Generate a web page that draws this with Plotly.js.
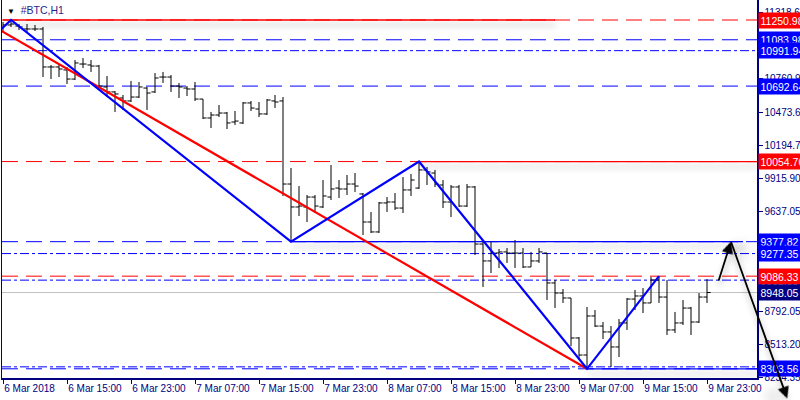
<!DOCTYPE html>
<html><head><meta charset="utf-8">
<script src="https://cdn.plot.ly/plotly-3.0.1.min.js"></script>
<style>html,body{margin:0;padding:0;background:#fff;} #chart{width:800px;height:400px;}</style>
</head><body><div id="chart"></div>
<script>
// ---- data: hourly BTC bars, 6 Mar 2018 07:00 .. 9 Mar 23:00 ----
const barOpen = [11183,11209,11200,11175,11175,11175,10854,10854,10829,10752,
 10879,10871,10862,10685,10643,10592,10567,10600,10676,10643,
 10769,10769,10693,10676,10668,10583,10423,10448,10465,10389,
 10381,10550,10499,10457,10567,10567,9865,9671,9671,9755,
 9671,9755,9831,9823,9865,9781,9544,9460,9705,9713,
 9662,9815,9831,9984,9958,9857,9713,9840,9679,9840,
 9358,9215,9282,9291,9282,9282,9164,9215,9282,9029,
 8944,8902,8564,8420,8750,8665,8615,8488,8691,8893,
 8919,8860,9054,8910,8632,8691,8817,8699,8910];
const barHigh = [11234,11250.98,11217,11217,11209,11192,10871,10879,10854,10913,
 10930,10913,10871,10778,10651,10617,10736,10727,10685,10803,
 10812,10786,10719,10693,10727,10583,10474,10533,10474,10482,
 10558,10567,10558,10583,10617,10600,10000,9848,9772,9772,
 9899,10026,9899,9941,9958,9789,9629,9713,9755,9789,
 9924,9950,10054.70,10009,9984,9899,9857,9857,9865,9848,
 9392,9375,9316,9324,9392,9324,9291,9324,9282,9054,
 8978,8902,8572,8826,8800,8699,8665,8724,8902,8970,
 8986,9080,9086.33,9054,8784,8885,8826,8944,9062];
const barLow = [11150,11192,11166,11150,11158,10769,10752,10769,10710,10744,
 10845,10812,10685,10600,10474,10491,10558,10592,10491,10634,
 10719,10643,10592,10609,10567,10414,10338,10431,10330,10364,
 10372,10482,10431,10448,10507,9764,9377.82,9595,9544,9620,
 9662,9730,9747,9772,9798,9434,9451,9451,9629,9646,
 9620,9764,9823,9857,9840,9662,9586,9671,9671,9265,
 8995,9113,9155,9198,9155,9155,9164,9198,8885,8817,
 8860,8496,8378,8303.56,8657,8555,8319,8403,8632,8800,
 8775,8860,8860,8589,8606,8674,8589,8691,8860];
const barClose = [11209,11217,11192,11175,11175,10854,10854,10837,10752,10888,
 10879,10862,10693,10643,10626,10567,10600,10685,10634,10761,
 10769,10693,10685,10668,10583,10423,10448,10465,10381,10397,
 10550,10507,10457,10575,10558,9865,9671,9679,9755,9679,
 9764,9823,9823,9865,9848,9544,9460,9705,9713,9662,
 9815,9899,9984,9967,9865,9713,9840,9679,9840,9358,
 9215,9282,9291,9282,9282,9164,9215,9291,9029,8944,
 8902,8564,8420,8750,8665,8615,8488,8691,8893,8919,
 8860,9054,8910,8632,8691,8817,8699,8910,8948.05];

const timeTickBars = [0,8,16,24,32,40,48,56,64,72,80,88];
const timeTickLabels = ["6 Mar 2018","6 Mar 15:00","6 Mar 23:00","7 Mar 07:00","7 Mar 15:00","7 Mar 23:00",
  "8 Mar 07:00","8 Mar 15:00","8 Mar 23:00","9 Mar 07:00","9 Mar 15:00","9 Mar 23:00"];
const priceTicks = [11318.60,10760.90,10473.60,10194.75,9915.90,9637.05,8792.05,8513.20,8234.35];

const levelPrices = [11250.98,11083.98,10991.94,10692.64,10054.70,9377.82,9277.35,9052.83,9086.33,8948.05,8320.10,8303.56];
const levelLabelShown = [true,true,true,true,true,true,true,true,true,true,false,true];
const solidFromBars = [0,52,36,73];
const solidToBars = [69,94.25,92.5,94.25];
const solidPrices = [11250.98,10054.70,9377.82,8303.56];

const zigzagBars = [-0.2,1,36,52,73,82];
const zigzagPrices = [11175,11250.98,9377.82,10054.70,8303.56,9086.33];
const trendBars = [-0.4,73];
const trendPrices = [11166,8303.56];

const arrowUpFrom = [89.4,9037];
const arrowUpTo = [91,9377.82];
const arrowDownFrom = [91,9377.82];
const arrowDownTo = [98.1,8040];

// ---- styles ----
const BLUE='#0000ff', RED='#ff0000', NAVY='#000080', GRAY='#c0c0c0';
const DASH='16px,8px', DASHDOT='9px,3px,3px,3px';
const levelStyle = [
  {c:RED,d:DASH,bg:RED},{c:BLUE,d:DASH,bg:BLUE},{c:BLUE,d:DASHDOT,bg:BLUE},{c:BLUE,d:DASH,bg:BLUE},
  {c:RED,d:DASH,bg:RED},{c:BLUE,d:DASH,bg:BLUE},{c:BLUE,d:DASHDOT,bg:BLUE},{c:BLUE,d:DASHDOT,bg:BLUE},
  {c:RED,d:DASH,bg:RED},{c:GRAY,d:'solid',bg:NAVY},{c:BLUE,d:DASHDOT,bg:BLUE},{c:BLUE,d:DASH,bg:BLUE}];
const solidColors=[RED,RED,BLUE,BLUE];
const FONT='Liberation Sans, Arial, sans-serif';
const xRange=[-0.125,94.25], yRange=[8225.9,11420];

const xIdx = barOpen.map((_,i)=>i);

const traces = [
  {type:'ohlc', x:xIdx, open:barOpen, high:barHigh, low:barLow, close:barClose,
   increasing:{line:{color:'#000',width:1}}, decreasing:{line:{color:'#000',width:1}},
   tickwidth:0.45, hoverinfo:'skip', showlegend:false},
  {type:'scatter', mode:'lines', x:trendBars, y:trendPrices, line:{color:RED,width:2.2}, hoverinfo:'skip', showlegend:false},
  {type:'scatter', mode:'lines', x:zigzagBars, y:zigzagPrices, line:{color:BLUE,width:2.2}, hoverinfo:'skip', showlegend:false}
];

const shapes = [];
levelPrices.forEach((p,i)=>{
  shapes.push({type:'line', layer:'below', xref:'x', yref:'y', x0:xRange[0], x1:xRange[1], y0:p, y1:p,
    line:{color:levelStyle[i].c, width:1, dash:levelStyle[i].d}});
});
const shadowStart = shapes.length;
solidPrices.forEach((p,i)=>{
  shapes.push({type:'line', layer:'below', xref:'x', yref:'y', x0:solidFromBars[i], x1:solidToBars[i], y0:p, y1:p,
    line:{color:solidColors[i], width:1.3}});
});

const annotations = [];
levelPrices.forEach((p,i)=>{
  if(!levelLabelShown[i]) return;
  annotations.push({xref:'paper', x:1, xanchor:'left', xshift:1, yref:'y', y:p, yanchor:'middle',
    text:p.toFixed(2), showarrow:false, bgcolor:levelStyle[i].bg, borderpad:1.5,
    font:{family:FONT, size:10.5, color:'#ffffff'}});
});
annotations.push({xref:'paper', yref:'paper', x:0, y:1, xanchor:'left', yanchor:'top', xshift:3, yshift:-2,
  showarrow:false, text:'<span style="color:#000;font-size:8px">▼</span>  #BTC,H1',
  font:{family:FONT, size:10.5, color:'#1f1f8f'}});
annotations.push({xref:'x', yref:'y', x:arrowUpTo[0], y:arrowUpTo[1], axref:'x', ayref:'y',
  ax:arrowUpFrom[0], ay:arrowUpFrom[1], showarrow:true, arrowhead:2, arrowsize:1.3, arrowwidth:1.8,
  arrowcolor:'#000', text:'', standoff:0});
annotations.push({xref:'x', yref:'y', x:arrowDownFrom[0], y:arrowDownFrom[1], axref:'x', ayref:'y',
  ax:arrowDownTo[0], ay:arrowDownTo[1], showarrow:true, arrowside:'start', startarrowhead:2, startarrowsize:1.3,
  arrowwidth:1.8, arrowcolor:'#000', text:'', standoff:0, startstandoff:0});

const layout = {
  width:800, height:400, margin:{l:2,r:43,t:0,b:22},
  paper_bgcolor:'#fff', plot_bgcolor:'#fff', showlegend:false,
  xaxis:{range:xRange, tickvals:timeTickBars, ticktext:timeTickLabels, ticks:'outside', ticklen:4,
    tickcolor:NAVY, showline:true, linecolor:NAVY, linewidth:1.5, showgrid:false, zeroline:false,
    ticklabelposition:'outside right', tickfont:{family:FONT, size:10, color:NAVY},
    rangeslider:{visible:false}, fixedrange:true},
  yaxis:{range:yRange, side:'right', tickvals:priceTicks, ticktext:priceTicks.map(v=>v.toFixed(2)),
    ticks:'outside', ticklen:4, tickcolor:NAVY, showline:true, mirror:true, linecolor:NAVY, linewidth:1.5,
    showgrid:false, zeroline:false, tickfont:{family:FONT, size:10, color:NAVY}, fixedrange:true},
  shapes:shapes, annotations:annotations
};

Plotly.newPlot('chart', traces, layout, {staticPlot:true}).then(gd=>{
  const svg = gd.querySelector('svg.main-svg');
  const NS='http://www.w3.org/2000/svg';
  let defs = svg.querySelector('defs');
  if(!defs){defs=document.createElementNS(NS,'defs'); svg.insertBefore(defs, svg.firstChild);}
  const f=document.createElementNS(NS,'filter');
  f.setAttribute('id','mtshadow'); f.setAttribute('filterUnits','userSpaceOnUse');
  f.setAttribute('x','-50'); f.setAttribute('y','-50'); f.setAttribute('width','900'); f.setAttribute('height','500');
  f.innerHTML='<feGaussianBlur in="SourceAlpha" stdDeviation="3"/><feOffset dx="1" dy="5" result="ob"/>'+
    '<feComponentTransfer><feFuncA type="linear" slope="0.35"/></feComponentTransfer>'+
    '<feMerge><feMergeNode/><feMergeNode in="SourceGraphic"/></feMerge>';
  defs.appendChild(f);
  gd.querySelectorAll('.shapelayer path').forEach(p=>{
    const idx = +p.getAttribute('data-index');
    if(idx>=shadowStart) p.setAttribute('filter','url(#mtshadow)');
  });
  gd.querySelectorAll('.annotation-arrow-g path').forEach(p=>p.setAttribute('filter','url(#mtshadow)'));
});
</script>
</body></html>
